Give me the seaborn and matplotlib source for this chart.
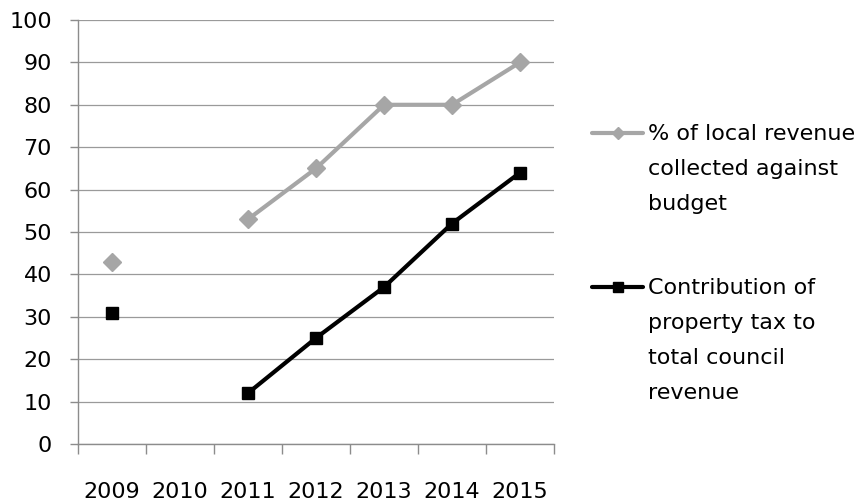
import numpy as np
import pandas as pd
import matplotlib
matplotlib.use("Agg")
import matplotlib.pyplot as plt
from matplotlib.lines import Line2D
import seaborn as sns

# Series values per year (2010 has no reported figure)
years = [2009, 2010, 2011, 2012, 2013, 2014, 2015]
collected_vs_budget = [43, np.nan, 53, 65, 80, 80, 90]
property_tax_share = [31, np.nan, 12, 25, 37, 52, 64]

series_labels = [
    "% of local revenue\ncollected against\nbudget",
    "Contribution of\nproperty tax to\ntotal council\nrevenue",
]
y_ticks = list(range(0, 101, 10))

GRAY = "#A6A6A6"
BLACK = "#000000"
AXIS_GRAY = "#8C8C8C"
FONT = 16


def segmented(values):
    """Long-form frame with a segment id that breaks at missing years."""
    seg, ids = 0, []
    for v in values:
        if np.isnan(v):
            seg += 1
        ids.append(seg)
    df = pd.DataFrame({"year": years, "value": values, "segment": ids})
    return df.dropna()


sns.set_theme(style="white")
plt.rcParams["font.family"] = ["DejaVu Sans"]
plt.rcParams["text.color"] = "black"
plt.rcParams["xtick.labelcolor"] = "black"
plt.rcParams["ytick.labelcolor"] = "black"

W, H = 861, 504
fig = plt.figure(figsize=(W / 100, H / 100), dpi=100)
ax = fig.add_axes([78 / W, 1 - 444 / H, (554 - 78) / W, (444 - 20) / H])

styles = [
    dict(color=GRAY, marker="D", markersize=9),
    dict(color=BLACK, marker="s", markersize=9),
]
for vals, st in zip([collected_vs_budget, property_tax_share], styles):
    d = segmented(vals)
    sns.lineplot(data=d, x="year", y="value", units="segment", estimator=None,
                 color=st["color"], marker=st["marker"],
                 markersize=st["markersize"], markeredgecolor=st["color"],
                 markeredgewidth=1, linewidth=3,
                 legend=False, ax=ax, zorder=3)

ax.set_xlim(years[0] - 0.5, years[-1] + 0.5)
ax.set_ylim(0, 100)
ax.set_xlabel("")
ax.set_ylabel("")

# Category boundaries carry the tick marks; labels sit at the centres
ax.set_xticks(np.arange(years[0] - 0.5, years[-1] + 1, 1.0))
ax.set_xticklabels([])
ax.set_xticks(years, minor=True)
ax.set_xticklabels([str(y) for y in years], minor=True, fontsize=FONT,
                   color="black")
ax.tick_params(axis="x", which="major", direction="out", length=7.2,
               width=1, color=AXIS_GRAY, bottom=True)
ax.tick_params(axis="x", which="minor", length=0, pad=27, bottom=True)

ax.set_yticks(y_ticks)
ax.set_yticklabels([str(v) for v in y_ticks], fontsize=FONT, color="black")
ax.tick_params(axis="y", direction="out", length=5.8, width=1,
               color=AXIS_GRAY, pad=13, left=True)

ax.yaxis.grid(True, color="#9A9A9A", linewidth=0.9)
ax.xaxis.grid(False)
ax.set_axisbelow(True)
for side in ("top", "right"):
    ax.spines[side].set_visible(False)
for side in ("left", "bottom"):
    ax.spines[side].set_color(AXIS_GRAY)
    ax.spines[side].set_linewidth(1)

# Legend drawn to the right of the plot area
legend_rows = [133, 287]
legend_markers = [dict(marker="D", markersize=6.5), dict(marker="s", markersize=7.5)]
for row, label, st, lm in zip(legend_rows, series_labels, styles, legend_markers):
    yf = 1 - row / H
    fig.add_artist(Line2D([592 / W, 643 / W], [yf, yf], transform=fig.transFigure,
                          color=st["color"], linewidth=3))
    fig.add_artist(Line2D([617.5 / W], [yf], transform=fig.transFigure,
                          color=st["color"], linestyle="none", marker=lm["marker"],
                          markersize=lm["markersize"], markeredgecolor=st["color"]))
    fig.text(648 / W, yf + 9 / H, label, fontsize=FONT, va="top", ha="left",
             linespacing=1.93, color="black", transform=fig.transFigure)

fig.savefig("out.png", dpi=100, facecolor="white")
